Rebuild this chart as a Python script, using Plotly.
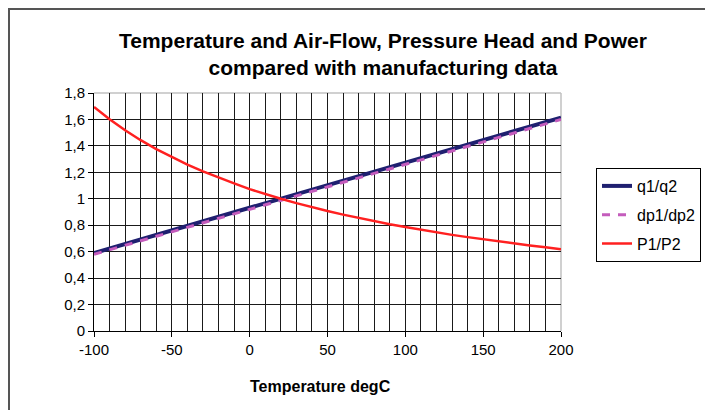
import plotly.graph_objects as go

temperature = [-100, -90, -80, -70, -60, -50, -40, -30, -20, -10, 0, 10, 20, 30, 40, 50,
               60, 70, 80, 90, 100, 110, 120, 130, 140, 150, 160, 170, 180, 190, 200]
q_ratio = [0.590, 0.625, 0.659, 0.693, 0.727, 0.761, 0.795, 0.829, 0.863, 0.898, 0.932,
           0.966, 1.000, 1.034, 1.068, 1.102, 1.137, 1.171, 1.205, 1.239, 1.273, 1.307,
           1.341, 1.375, 1.410, 1.444, 1.478, 1.512, 1.546, 1.580, 1.614]
dp_ratio = [0.580, 0.614, 0.648, 0.682, 0.716, 0.750, 0.784, 0.818, 0.852, 0.886, 0.920,
            0.955, 0.990, 1.024, 1.058, 1.092, 1.126, 1.160, 1.194, 1.228, 1.262, 1.296,
            1.330, 1.364, 1.398, 1.432, 1.466, 1.500, 1.534, 1.568, 1.600]
p_ratio = [1.694, 1.601, 1.518, 1.443, 1.376, 1.314, 1.258, 1.207, 1.160, 1.117, 1.073,
           1.035, 1.000, 0.967, 0.936, 0.907, 0.880, 0.854, 0.830, 0.807, 0.786, 0.765,
           0.746, 0.727, 0.710, 0.693, 0.677, 0.662, 0.647, 0.633, 0.619]

title_lines = ["Temperature and Air-Flow, Pressure Head and Power", "compared with manufacturing data"]
x_title = "Temperature degC"
x_tickvals = [-100, -50, 0, 50, 100, 150, 200]
x_ticktext = ["-100", "-50", "0", "50", "100", "150", "200"]
y_tickvals = [0, 0.2, 0.4, 0.6, 0.8, 1.0, 1.2, 1.4, 1.6, 1.8]
y_ticktext = ["0", "0,2", "0,4", "0,6", "0,8", "1", "1,2", "1,4", "1,6", "1,8"]

FONT = "Liberation Sans, Arial, sans-serif"

fig = go.Figure()
fig.add_trace(go.Scatter(x=temperature, y=q_ratio, mode="lines", name="q1/q2", legendgroup="a",
                         line=dict(color="#1f2070", width=4)))
fig.add_trace(go.Scatter(x=temperature, y=dp_ratio, mode="lines", name="dp1/dp2", legendgroup="b",
                         line=dict(color="#c45cbc", width=3, dash="8px,8px")))
fig.add_trace(go.Scatter(x=temperature, y=p_ratio, mode="lines", name="P1/P2", legendgroup="c",
                         line=dict(color="#ff2020", width=2.5)))

# page has an 8px body margin: figure pixel = page pixel - 8
OFF = 8
W, H = 705, 402
L, R, T, B = 94 - OFF, 561 - OFF, 93 - OFF, 331 - OFF

def px_x(p):
    return (p - OFF - L) / (R - L)

def px_y(p):
    return (B - (p - OFF)) / (B - T)

fig.update_layout(
    width=W, height=H,
    margin=dict(l=L, r=W - R, t=T, b=H - B, autoexpand=False),
    paper_bgcolor="white", plot_bgcolor="white",
    font=dict(family=FONT, size=15, color="black"),
    showlegend=True,
    legend=dict(x=px_x(596), y=px_y(168), xanchor="left", yanchor="top",
                bordercolor="black", borderwidth=1, bgcolor="white",
                font=dict(family=FONT, size=16, color="black"),
                tracegroupgap=5, itemwidth=30),
    xaxis=dict(range=[-100, 200], tickvals=x_tickvals, ticktext=x_ticktext,
               showgrid=True, gridcolor="#1a1a1a", gridwidth=1,
               minor=dict(dtick=10, tick0=-100, showgrid=True, gridcolor="#1a1a1a", gridwidth=1),
               ticks="outside", ticklen=5, tickcolor="black",
               showline=True, linecolor="black", linewidth=1,
               zeroline=False, tickfont=dict(size=15, family=FONT)),
    yaxis=dict(range=[0, 1.8], tickvals=y_tickvals, ticktext=y_ticktext,
               showgrid=True, gridcolor="#1a1a1a", gridwidth=1,
               ticks="outside", ticklen=5, tickcolor="black",
               showline=True, linecolor="black", linewidth=1,
               zeroline=False, tickfont=dict(size=15, family=FONT)),
    annotations=[
        dict(x=px_x(383), y=px_y(54), xref="paper", yref="paper",
             text="<b>" + title_lines[0] + "<br>" + title_lines[1] + "</b>",
             showarrow=False, xanchor="center", yanchor="middle",
             font=dict(size=21, family=FONT, color="black")),
        dict(x=px_x(320), y=px_y(386), xref="paper", yref="paper",
             text="<b>" + x_title + "</b>",
             showarrow=False, xanchor="center", yanchor="middle",
             font=dict(size=16, family=FONT, color="black")),
    ],
    shapes=[
        dict(type="line", xref="paper", yref="paper", x0=0, x1=1, y0=1, y1=1,
             line=dict(color="#c0c0c0", width=1.5), layer="between"),
        dict(type="line", xref="paper", yref="paper", x0=1, x1=1, y0=0, y1=1,
             line=dict(color="#c0c0c0", width=1.5), layer="between"),
        dict(type="rect", xref="paper", yref="paper",
             x0=px_x(9), x1=px_x(760), y0=px_y(460), y1=px_y(9),
             line=dict(color="#555555", width=2), layer="above"),
    ],
)

fig.write_html("out.html")
